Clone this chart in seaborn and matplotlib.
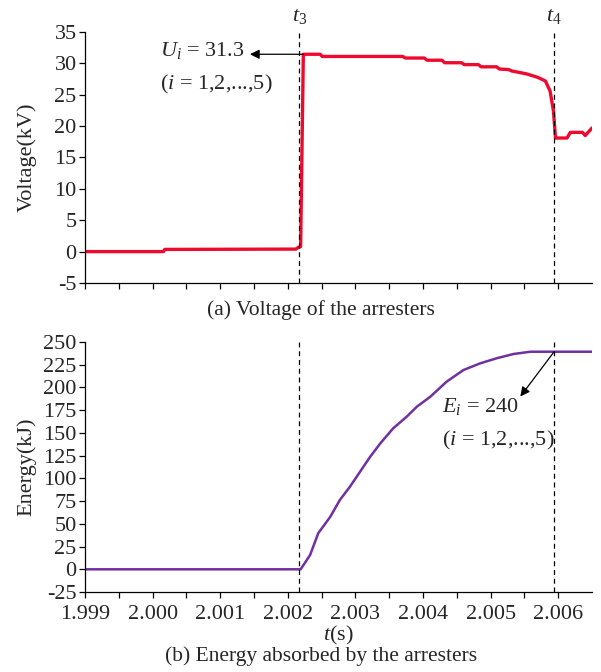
import matplotlib
matplotlib.use("Agg")
import matplotlib.pyplot as plt
import seaborn as sns
import pandas as pd

# voltage of the arresters (kV)
volt_t = [1.99900, 2.00016, 2.00018, 2.00212, 2.00216, 2.00219, 2.00223,
          2.00248, 2.00251, 2.00370, 2.00374, 2.00402, 2.00406, 2.00428,
          2.00432, 2.00457, 2.00461, 2.00482, 2.00486, 2.00509, 2.00513,
          2.00527, 2.00531, 2.00554, 2.00569, 2.00581, 2.00588, 2.00593,
          2.00596, 2.00613, 2.00618, 2.00636, 2.00640, 2.00650]
volt_v = [0.0, 0.0, 0.35, 0.4, 0.7, 0.8, 31.45,
          31.45, 31.1, 31.1, 30.85, 30.85, 30.5, 30.5,
          30.1, 30.1, 29.8, 29.8, 29.45, 29.45, 29.1,
          29.0, 28.8, 28.3, 27.8, 27.2, 25.6, 22.4,
          18.1, 18.1, 19.0, 19.0, 18.5, 19.7]

# energy absorbed by the arresters (kJ)
energy_t = [1.99900, 2.00219, 2.00233, 2.00245, 2.00263, 2.00277, 2.00292,
            2.00307, 2.00322, 2.00337, 2.00356, 2.00376, 2.00391, 2.00411,
            2.00435, 2.00460, 2.00485, 2.00509, 2.00534, 2.00559, 2.00650]
energy_e = [0.0, 0.0, 15.7, 39.6, 57.9, 76.2, 90.9,
            107.4, 123.9, 138.6, 155.1, 167.9, 178.9, 189.9,
            206.4, 219.2, 226.6, 232.1, 236.8, 239.3, 239.3]

T3 = 2.00217
T4 = 2.00594
U_PEAK = 31.45
E_FINAL = 239.3

x_ticks = [1.999, 2.000, 2.001, 2.002, 2.003, 2.004, 2.005, 2.006]
x_minor = [1.9995, 2.0005, 2.0015, 2.0025, 2.0035, 2.0045, 2.0055]

sns.set_style("ticks")
plt.rcParams["font.family"] = ["Liberation Serif", "DejaVu Serif"]
plt.rcParams["mathtext.fontset"] = "custom"
plt.rcParams["mathtext.rm"] = "Liberation Serif"
plt.rcParams["mathtext.it"] = "Liberation Serif:italic"
plt.rcParams["axes.unicode_minus"] = False

volt = pd.DataFrame({"t": volt_t, "v": volt_v})
energy = pd.DataFrame({"t": energy_t, "e": energy_e})

fig = plt.figure(figsize=(6.01, 6.72), dpi=100)
ax1 = fig.add_axes([0.1414, 0.5789, 0.8436, 0.3735])
ax2 = fig.add_axes([0.1414, 0.1190, 0.8436, 0.3721])

FS = 16

# (a) voltage
sns.lineplot(data=volt, x="t", y="v", ax=ax1, color="#EE0A2E", lw=2.4)
ax1.axvline(T3, color="black", ls="--", lw=0.9, dashes=(4, 3))
ax1.axvline(T4, color="black", ls="--", lw=0.9, dashes=(4, 3))
ax1.set_ylim(-5, 35)
ax1.set_yticks(range(-5, 36, 5))
ax1.set_ylabel("Voltage(kV)", fontsize=FS)
ax1.set_xlabel("")
ax1.annotate("", xy=(2.00144, U_PEAK), xytext=(T3 + 0.00006, U_PEAK),
             arrowprops=dict(arrowstyle="-|>", color="black", lw=0.9,
                             mutation_scale=14, shrinkA=0, shrinkB=0))
ax1.text(2.00011, 32.0, "$U_i$ = 31.3", fontsize=FS, ha="left", va="center")
ax1.text(2.00011, 26.7, "($i$ = 1,2,...,5)", fontsize=FS, ha="left", va="center")
ax1.text(T3, 1.025, r"$t_3$", transform=ax1.get_xaxis_transform(),
         fontsize=FS, ha="center", va="bottom")
ax1.text(T4, 1.025, r"$t_4$", transform=ax1.get_xaxis_transform(),
         fontsize=FS, ha="center", va="bottom")

# (b) energy
sns.lineplot(data=energy, x="t", y="e", ax=ax2, color="#7030A0", lw=1.8)
ax2.axvline(T3, color="black", ls="--", lw=0.9, dashes=(4, 3))
ax2.axvline(T4, color="black", ls="--", lw=0.9, dashes=(4, 3))
ax2.set_ylim(-25, 250)
ax2.set_yticks(range(-25, 251, 25))
ax2.set_ylabel("Energy(kJ)", fontsize=FS)
ax2.set_xlabel(r"$t$(s)", fontsize=FS, labelpad=0)
ax2.annotate("", xy=(2.00544, 190.0), xytext=(T4, E_FINAL),
             arrowprops=dict(arrowstyle="-|>", color="black", lw=0.9,
                             mutation_scale=14, shrinkA=0, shrinkB=0))
ax2.text(2.00428, 178.5, "$E_i$ = 240", fontsize=FS, ha="left", va="center")
ax2.text(2.00428, 142.2, "($i$ = 1,2,...,5)", fontsize=FS, ha="left", va="center")

for ax in (ax1, ax2):
    ax.set_xlim(1.999, 2.0065)
    ax.set_xticks(x_ticks)
    ax.set_xticks(x_minor, minor=True)
    sns.despine(ax=ax)
    ax.tick_params(axis="both", which="both", direction="out", length=4,
                   width=0.9, labelsize=FS, pad=2, color="black")
    for s in ("left", "bottom"):
        ax.spines[s].set_color("black")
        ax.spines[s].set_linewidth(0.9)
    ax.yaxis.set_label_coords(-0.095, 0.5)

ax2.tick_params(axis="x", pad=5)
ax2.set_xticklabels([f"{v:.3f}" for v in x_ticks])
ax1.set_xticklabels([])

fig.text(0.534, 1 - 310 / 672, "(a) Voltage of the arresters",
         fontsize=15.5, ha="center", va="center")
fig.text(0.534, 1 - 656 / 672, "(b) Energy absorbed by the arresters",
         fontsize=15.5, ha="center", va="center")

fig.savefig("out.png", dpi=100)
